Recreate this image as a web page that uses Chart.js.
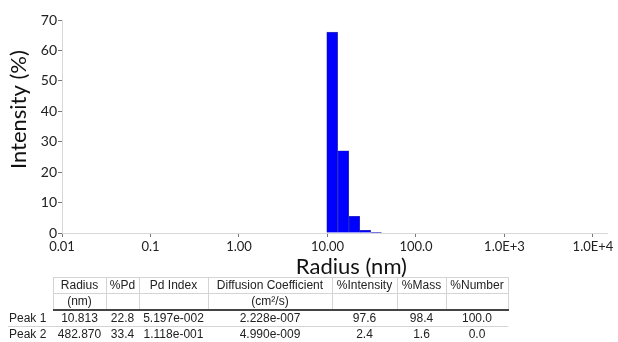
<!DOCTYPE html>
<html>
<head>
<meta charset="utf-8">
<script src="https://cdn.jsdelivr.net/npm/chart.js@4.4.0/dist/chart.umd.min.js"></script>
<style>
body { margin: 0; background: #fff; width: 618px; height: 342px; overflow: hidden; position: relative; }
#chart-box { position: absolute; left: 0; top: 0; width: 618px; height: 280px; }
#peaks { position: absolute; left: 8px; top: 277px; border-collapse: collapse; table-layout: fixed;
         font-family: "Liberation Sans", Arial, sans-serif; font-size: 12px; color: #222; }
#peaks td { height: 15px; line-height: 15px; padding: 0; text-align: center; white-space: nowrap; overflow: hidden; }
#peaks tr.head td { border: 1px solid #d4d4d4; }
#peaks tr.head td.blank { border: none; }
#peaks tr.unit td { border-bottom: 2px solid #444; }
#peaks tr.body td { border-bottom: 1px solid #d4d4d4; }
#peaks tr.body td.name { text-align: left; padding-left: 1px; }
</style>
</head>
<body>
<div id="chart-box"><canvas id="size-chart"></canvas></div>
<table id="peaks"></table>
<script>
// size distribution (intensity weighted)
var binCenters = [11.3, 15.1, 20.1, 26.7, 35.5];
var intensity = [66, 27, 5.5, 0.9, 0.2];

var xTickValues = [0.01, 0.1, 1, 10, 100, 1000, 10000];
var xTickLabels = ['0.01', '0.1', '1.00', '10.00', '100.0', '1.0E+3', '1.0E+4'];

// peak table
var colHeads = ['Radius', '%Pd', 'Pd Index', 'Diffusion Coefficient', '%Intensity', '%Mass', '%Number'];
var colUnits = ['(nm)', '', '', '(cm\u00b2/s)', '', '', ''];
var colWidths = [45, 53, 33, 69, 124, 65, 49, 62];
var peakNames = ['Peak 1', 'Peak 2'];
var peakRadius = ['10.813', '482.870'];
var peakPd = ['22.8', '33.4'];
var peakPdIndex = ['5.197e-002', '1.118e-001'];
var peakDiffusion = ['2.228e-007', '4.990e-009'];
var peakIntensity = ['97.6', '2.4'];
var peakMass = ['98.4', '1.6'];
var peakNumber = ['100.0', '0.0'];

var buildTable = function() {
    var table = document.getElementById('peaks');
    var html = '<colgroup>';
    for (var w of colWidths) html += '<col style="width:' + w + 'px">';
    html += '</colgroup>';

    html += '<tr class="head"><td class="blank"></td>';
    for (var h of colHeads) html += '<td>' + h + '</td>';
    html += '</tr><tr class="head unit"><td class="blank"></td>';
    for (var u of colUnits) html += '<td>' + u + '</td>';
    html += '</tr>';

    for (var i = 0; i < peakNames.length; i++) {
        html += '<tr class="body"><td class="name">' + peakNames[i] + '</td>' +
            '<td>' + peakRadius[i] + '</td><td>' + peakPd[i] + '</td><td>' + peakPdIndex[i] + '</td>' +
            '<td>' + peakDiffusion[i] + '</td><td>' + peakIntensity[i] + '</td>' +
            '<td>' + peakMass[i] + '</td><td>' + peakNumber[i] + '</td></tr>';
    }
    table.innerHTML = html;
}

var points = binCenters.map(function(c, i) { return {x: c, y: intensity[i]}; });

var ctx = document.getElementById('size-chart').getContext('2d');
new Chart(ctx, {
    type: 'bar',
    data: {
        datasets: [{
            data: points,
            backgroundColor: '#0000ff',
            borderColor: 'rgba(0, 0, 120, 0.7)',
            borderWidth: 0.6,
            barPercentage: 1,
            categoryPercentage: 1
        }]
    },
    options: {
        responsive: true,
        maintainAspectRatio: false,
        animation: false,
        layout: { padding: { top: 20, right: 11, left: 0, bottom: 0 } },
        plugins: { legend: { display: false }, tooltip: { enabled: false } },
        scales: {
            x: {
                type: 'logarithmic',
                min: 0.01,
                max: 14400,
                offset: false,
                afterBuildTicks: function(scale) {
                    scale.ticks = xTickValues.map(function(v) { return {value: v}; });
                },
                afterFit: function(scale) { scale.height = 47; },
                ticks: {
                    autoSkip: false,
                    maxRotation: 0,
                    padding: 2,
                    color: '#222',
                    font: { family: 'Lato', size: 13 },
                    callback: function(value, index) { return xTickLabels[index]; }
                },
                grid: { offset: false, drawOnChartArea: false, drawTicks: true, tickLength: 4, color: '#777' },
                border: { display: true, color: '#d8d8d8' },
                title: {
                    display: true,
                    // leading spaces nudge the title right, as in the original
                    text: '      Radius (nm)',
                    color: '#111',
                    font: { family: 'Lato', size: 22 },
                    padding: { top: 0, bottom: 0 }
                }
            },
            y: {
                min: 0,
                max: 70,
                afterFit: function(scale) { scale.width = 62; },
                ticks: {
                    stepSize: 10,
                    padding: 1,
                    color: '#222',
                    font: { family: 'Lato', size: 14 }
                },
                grid: { drawOnChartArea: false, drawTicks: true, tickLength: 4, color: '#777' },
                border: { display: true, color: '#d8d8d8' },
                title: {
                    display: true,
                    text: '      Intensity (%)',
                    color: '#111',
                    font: { family: 'Lato', size: 22 },
                    padding: { top: 6, bottom: 0 }
                }
            }
        }
    }
});

buildTable();
</script>
</body>
</html>
